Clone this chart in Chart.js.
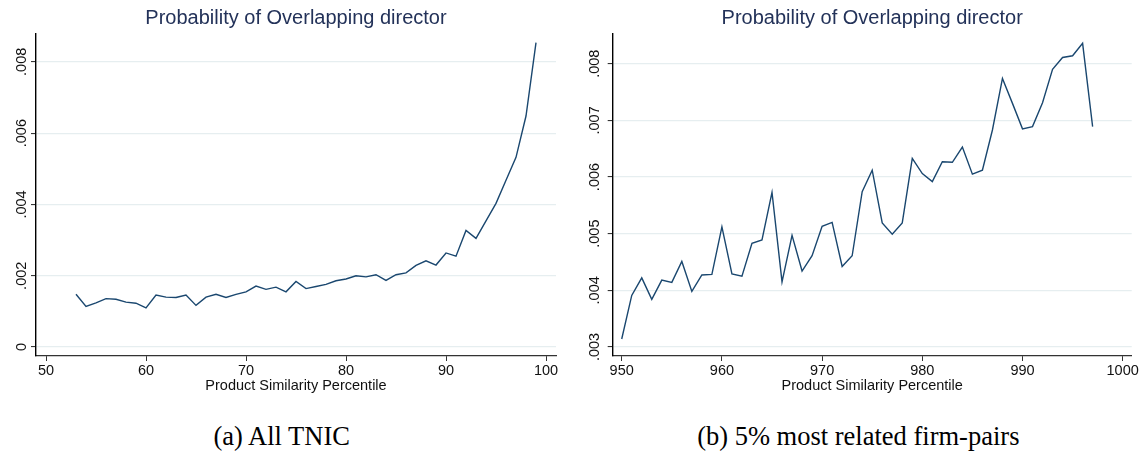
<!DOCTYPE html>
<html>
<head>
<meta charset="utf-8">
<script src="https://cdn.jsdelivr.net/npm/chart.js@4"></script>
<style>
  body { margin: 0; background: #fff; width: 1146px; height: 457px; position: relative; overflow: hidden; }
  canvas { position: absolute; top: 0; }
  #chartA { left: 0; }
  #chartB { left: 570px; }
  .caption {
    position: absolute; top: 421px; width: 500px; text-align: center;
    font-family: "Liberation Serif", "DejaVu Serif", serif; font-size: 26.5px; line-height: 30px; color: #000;
  }
</style>
</head>
<body>
<canvas id="chartA" width="570" height="400"></canvas>
<canvas id="chartB" width="576" height="400"></canvas>
<div class="caption" style="left:31.7px">(a) All TNIC</div>
<div class="caption" style="left:608.3px">(b) 5% most related firm-pairs</div>

<script>
// (a) All TNIC
let pctA = [53, 54, 55, 56, 57, 58, 59, 60, 61, 62, 63, 64, 65, 66, 67, 68, 69, 70, 71, 72, 73, 74, 75, 76,
  77, 78, 79, 80, 81, 82, 83, 84, 85, 86, 87, 88, 89, 90, 91, 92, 93, 94, 95, 96, 97, 98, 99];
let probA = [0.00148, 0.00114, 0.00124, 0.00136, 0.00134, 0.00126, 0.00123, 0.0011, 0.00146, 0.0014, 0.00139,
  0.00146, 0.00117, 0.0014, 0.00148, 0.00139, 0.00148, 0.00155, 0.00171, 0.00162, 0.00168, 0.00155, 0.00184,
  0.00164, 0.0017, 0.00176, 0.00186, 0.00191, 0.002, 0.00197, 0.00203, 0.00187, 0.00203, 0.00208, 0.00229,
  0.00242, 0.0023, 0.00264, 0.00255, 0.00327, 0.00305, 0.00354, 0.00403, 0.00468, 0.00532, 0.00648, 0.00854];
let xTicksA = [50, 60, 70, 80, 90, 100];
let yTicksA = [0, 0.002, 0.004, 0.006, 0.008];

// (b) 5% most related firm-pairs
let pctB = [950, 951, 952, 953, 954, 955, 956, 957, 958, 959, 960, 961, 962, 963, 964, 965, 966, 967, 968, 969,
  970, 971, 972, 973, 974, 975, 976, 977, 978, 979, 980, 981, 982, 983, 984, 985, 986, 987, 988, 989, 990, 991,
  992, 993, 994, 995, 996, 997];
let probB = [0.00314, 0.00391, 0.00422, 0.00384, 0.00418, 0.00414, 0.00451, 0.00398, 0.00427, 0.00428, 0.00512,
  0.00429, 0.00425, 0.00483, 0.00489, 0.00573, 0.00415, 0.00497, 0.00434, 0.00461, 0.00513, 0.0052, 0.00442,
  0.00461, 0.00574, 0.00612, 0.00519, 0.00499, 0.00519, 0.00633, 0.00606, 0.00592, 0.00627, 0.00626, 0.00653,
  0.00605, 0.00612, 0.00683, 0.00774, 0.0073, 0.00685, 0.00689, 0.00731, 0.0079, 0.00811, 0.00814, 0.00836, 0.00689];
let xTicksB = [950, 960, 970, 980, 990, 1000];
let yTicksB = [0.003, 0.004, 0.005, 0.006, 0.007, 0.008];

let titleText = "Probability of Overlapping director";
let xTitleText = "Product Similarity Percentile";
let lineColor = "#1a476f";
let gridColor = "#e6eef0";
let fontFamily = "'Liberation Sans', Arial, sans-serif";

// .008 形式のラベル
function fmtProb(v) {
  if (v === 0) return "0";
  return v.toFixed(3).replace(/^0/, "");
}

function makeConfig(xs, ys, xTicks, yTicks, opt) {
  return {
    type: "line",
    data: {
      datasets: [
        {
          data: xs.map((x, i) => ({ x: x, y: ys[i] })),
          borderColor: lineColor,
          borderWidth: 1.4,
          fill: false,
          tension: 0,
          pointRadius: 0,
        },
      ],
    },
    options: {
      responsive: false,
      animation: false,
      layout: { padding: { left: 0, right: opt.padRight, top: 0, bottom: 0 } },
      plugins: {
        legend: { display: false },
        tooltip: { enabled: false },
        title: {
          display: true,
          text: titleText,
          fullSize: false,
          color: "#233259",
          font: { family: fontFamily, size: 20, weight: "normal", lineHeight: 1.2 },
          padding: { top: 6, bottom: 4 },
        },
      },
      scales: {
        x: {
          type: "linear",
          min: opt.xMin,
          max: opt.xMax,
          afterBuildTicks: (scale) => {
            scale.ticks = xTicks.map((v) => ({ value: v }));
          },
          afterFit: (scale) => {
            scale.height = 44;
          },
          grid: { drawOnChartArea: false, tickLength: 5, tickColor: "#333", tickWidth: 1 },
          border: { color: "#333", width: 1.2 },
          ticks: {
            color: "#111",
            padding: 1,
            maxRotation: 0,
            font: { family: fontFamily, size: 14.5 },
            callback: (v) => String(v),
          },
          title: {
            display: true,
            text: xTitleText,
            color: "#111",
            font: { family: fontFamily, size: 14.5 },
            padding: { top: 0, bottom: 5.6 },
          },
        },
        y: {
          min: opt.yMin,
          max: opt.yMax,
          afterBuildTicks: (scale) => {
            scale.ticks = yTicks.map((v) => ({ value: v }));
          },
          afterFit: (scale) => {
            scale.width = opt.yWidth;
          },
          grid: { color: gridColor, lineWidth: 1.2, tickLength: 5, tickColor: "#222", tickWidth: 1 },
          border: { color: "#000", width: 1.4 },
          ticks: {
            color: "#111",
            minRotation: 90,
            maxRotation: 90,
            crossAlign: "center",
            padding: opt.yPad,
            font: { family: fontFamily, size: 14.5 },
            callback: (v) => fmtProb(v),
          },
        },
      },
    },
  };
}

window.onload = function () {
  // 左のチャート
  let ctxA = document.getElementById("chartA").getContext("2d");
  window.chartA = new Chart(ctxA, makeConfig(pctA, probA, xTicksA, yTicksA,
    { xMin: 49, xMax: 101, yMin: -0.00025, yMax: 0.00878, yWidth: 36, yPad: -5.5, padRight: 14 }));

  // 右のチャート
  let ctxB = document.getElementById("chartB").getContext("2d");
  window.chartB = new Chart(ctxB, makeConfig(pctB, probB, xTicksB, yTicksB,
    { xMin: 949.1, xMax: 1000.9, yMin: 0.00284, yMax: 0.008525, yWidth: 42.7, yPad: -1.5, padRight: 14.3 }));
};
</script>
</body>
</html>
